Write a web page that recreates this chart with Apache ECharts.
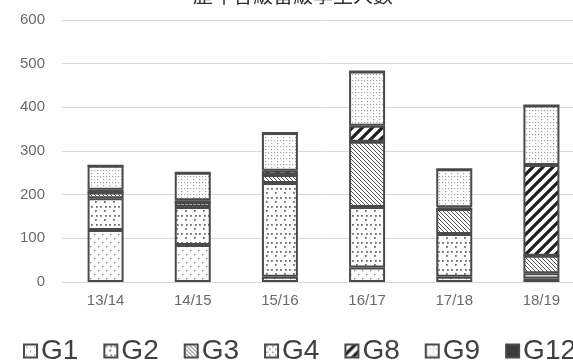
<!DOCTYPE html>
<html>
<head>
<meta charset="utf-8">
<script src="https://cdn.jsdelivr.net/npm/echarts@6/dist/echarts.min.js"></script>
<style>
  html, body { margin: 0; padding: 0; background: #fff; overflow: hidden; width: 573px; height: 362px; }
  #chart { position: absolute; left: 0; top: -20px; width: 600px; height: 382px; }
</style>
</head>
<body>
<div id="chart"></div>
<script>
// School years and per-grade counts (stacked)
const years = ['13/14', '14/15', '15/16', '16/17', '17/18', '18/19'];
const gradeNames = ['G1', 'G2', 'G3', 'G4', 'G8', 'G9', 'G12'];
const g1  = [119, 85, 12, 33, 12, 8];
const g2  = [73, 87, 215, 139, 98, 12];
const g3  = [13, 10, 18, 149, 57, 40];
const g4  = [0, 0, 0, 0, 0, 0];
const g8  = [6, 5, 10, 37, 4, 208];
const g9  = [55, 63, 86, 124, 87, 136];
const g12 = [0, 0, 0, 0, 0, 0];
const yTicks = { min: 0, max: 600, interval: 100 };

// Hatch / dot fills for each grade
function tile(size, draw) {
  const c = document.createElement('canvas');
  c.width = size; c.height = size;
  const ctx = c.getContext('2d');
  ctx.fillStyle = '#fff';
  ctx.fillRect(0, 0, size, size);
  draw(ctx, size);
  return { image: c, repeat: 'repeat' };
}
function dots(list, color, r) {
  return (ctx) => {
    ctx.fillStyle = color;
    list.forEach(([x, y]) => ctx.fillRect(x, y, r, r));
  };
}
const fills = {
  G1: tile(8, dots([[2, 2], [6, 6]], '#8a8a8a', 1.3)),
  G2: tile(9, dots([[1, 1], [5, 5], [6, 1]], '#6e6e6e', 1.8)),
  G3: tile(4, (ctx, s) => {
    ctx.strokeStyle = '#555'; ctx.lineWidth = 1;
    ctx.beginPath();
    ctx.moveTo(-1, -1); ctx.lineTo(s + 1, s + 1);
    ctx.moveTo(-1, s - 1); ctx.lineTo(1, s + 1);
    ctx.moveTo(s - 1, -1); ctx.lineTo(s + 1, 1);
    ctx.stroke();
  }),
  G4: tile(6, dots([[1, 1], [4, 4]], '#777', 1.5)),
  G8: tile(10, (ctx, s) => {
    ctx.strokeStyle = '#1e1e1e'; ctx.lineWidth = 3.2;
    ctx.beginPath();
    for (let k = -1; k <= 1; k++) {
      ctx.moveTo(k * s - 1, s + 1);
      ctx.lineTo(k * s + s + 1, -1);
    }
    ctx.stroke();
  }),
  G9: tile(6, dots([[1, 1], [4, 4], [1, 4]], '#a0a0a0', 1.2)),
  G12: '#3c3c3c'
};

const values = [g1, g2, g3, g4, g8, g9, g12];
const series = gradeNames.map((name, i) => ({
  name,
  type: 'bar',
  stack: 'total',
  barWidth: 36,
  data: values[i],
  itemStyle: { color: fills[name], borderColor: '#4a4a4a', borderWidth: 2 },
  emphasis: { disabled: true }
}));

const chart = echarts.init(document.getElementById('chart'), null, { renderer: 'canvas' });
chart.setOption({
  animation: false,
  backgroundColor: '#fff',
  title: {
    text: '歷年各級留級學生人數',
    left: 188,
    top: 0,
    textStyle: { fontSize: 20, fontWeight: 'normal', color: '#333', fontFamily: '"Noto Sans CJK TC", sans-serif' }
  },
  grid: { left: 62, right: 15, top: 40, bottom: 80 },
  xAxis: {
    type: 'category',
    data: years,
    axisLine: { lineStyle: { color: '#d9d9d9' } },
    axisTick: { show: false },
    axisLabel: { color: '#6a6a6a', fontSize: 15, margin: 11, fontFamily: 'Liberation Sans, Arial, sans-serif' }
  },
  yAxis: {
    type: 'value',
    min: yTicks.min, max: yTicks.max, interval: yTicks.interval,
    axisLine: { show: false },
    axisTick: { show: false },
    splitLine: { lineStyle: { color: '#d9d9d9' } },
    axisLabel: { color: '#6a6a6a', fontSize: 15, margin: 17, fontFamily: 'Liberation Sans, Arial, sans-serif' }
  },
  legend: {
    data: gradeNames,
    left: 18,
    top: 352,
    itemWidth: 13,
    itemHeight: 13,
    itemGap: 25,
    icon: 'rect',
    textStyle: { fontSize: 28, color: '#404040', padding: [0, 0, 0, -1], fontFamily: 'Liberation Sans, Arial, sans-serif' }
  },
  series
});
</script>
</body>
</html>
